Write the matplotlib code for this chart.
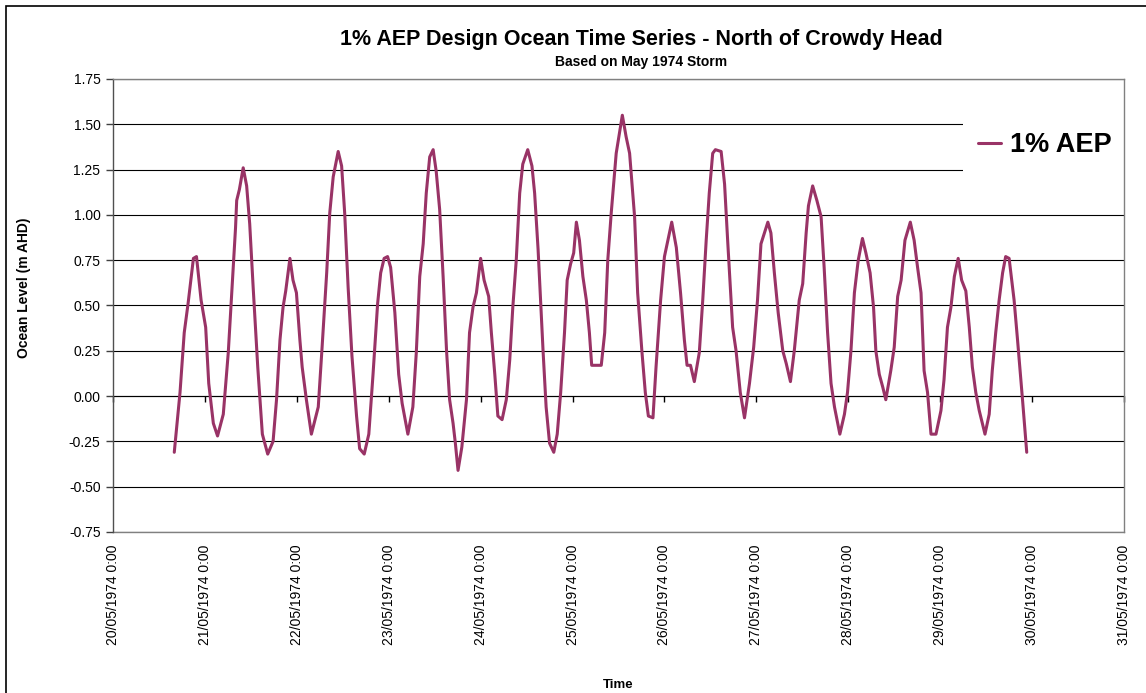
import numpy as np
import pandas as pd
import matplotlib
matplotlib.use("Agg")
import matplotlib.pyplot as plt
import matplotlib.dates as mdates
from matplotlib.patches import Rectangle
from matplotlib.ticker import FuncFormatter

plt.rcParams['font.family'] = ['Liberation Sans', 'DejaVu Sans']

# Hours after 20/05/1974 0:00 and ocean level (m AHD)
hours = [16.0, 17.5, 18.6, 19.6, 21.0, 21.8, 23.0, 24.2, 25.0, 26.2,
         27.3, 28.8, 30.1, 31.4, 32.0, 32.3, 33.0, 34.0, 34.9, 35.7,
         36.6, 37.8, 39.0, 40.4, 41.8, 42.7, 43.6, 44.4, 45.1, 46.2,
         47.0, 47.9, 48.8, 49.4, 50.5, 51.8, 53.6, 54.6, 55.8, 56.6,
         57.5, 58.8, 59.7, 60.5, 61.4, 62.4, 63.6, 64.4, 65.6, 66.8,
         67.9, 69.1, 69.9, 70.8, 71.7, 72.5, 73.6, 74.6, 75.5, 77.0,
         78.3, 79.2, 80.1, 81.0, 81.8, 82.7, 83.6, 84.4, 85.3, 86.2,
         87.1, 87.9, 88.8, 89.4, 90.1, 91.1, 92.3, 93.1, 94.0, 94.9,
         96.0, 96.9, 98.1, 98.8, 99.7, 100.5, 101.6, 102.7, 103.6, 104.4,
         105.3, 106.2, 107.0, 108.3, 109.4, 110.1, 111.0, 112.3, 113.1, 114.0,
         115.1, 116.0, 116.9, 117.9, 118.6, 119.5, 120.3, 121.0, 121.8, 122.7,
         123.6, 124.4, 125.0, 127.5, 128.4, 129.2, 130.1, 131.4, 133.0, 134.0,
         134.9, 136.2, 137.0, 138.1, 139.0, 139.8, 141.0, 141.8, 143.0, 144.0,
         145.9, 147.1, 148.2, 149.2, 149.9, 150.8, 151.8, 153.1, 154.0, 154.9,
         155.7, 156.6, 157.3, 158.8, 159.7, 160.5, 161.8, 162.7, 163.8, 164.9,
         166.2, 167.3, 168.3, 169.2, 171.0, 171.8, 172.7, 173.7, 174.9, 175.8,
         176.9, 177.9, 179.2, 180.1, 181.0, 181.6, 182.7, 183.8, 184.9, 185.7,
         186.6, 187.5, 188.4, 189.8, 191.0, 191.8, 192.7, 193.6, 194.6, 195.7,
         196.6, 197.7, 198.6, 199.2, 200.1, 201.0, 201.8, 203.1, 204.0, 204.9,
         205.8, 206.8, 208.2, 209.2, 210.1, 211.0, 211.8, 212.7, 213.6, 214.9,
         216.2, 217.0, 217.9, 218.8, 219.7, 220.7, 221.6, 222.7, 223.6, 224.4,
         225.3, 226.2, 227.7, 228.8, 229.6, 230.5, 231.4, 232.3, 233.1, 234.0,
         235.3, 236.2, 237.5, 238.6]

level = [-0.31, 0.02, 0.35, 0.51, 0.76, 0.77, 0.53, 0.38, 0.07, -0.15,
         -0.22, -0.10, 0.24, 0.71, 0.93, 1.08, 1.14, 1.26, 1.16, 0.95,
         0.60, 0.16, -0.21, -0.32, -0.25, -0.02, 0.31, 0.49, 0.58, 0.76,
         0.64, 0.57, 0.31, 0.16, -0.02, -0.21, -0.06, 0.27, 0.68, 1.01,
         1.21, 1.35, 1.27, 1.01, 0.60, 0.22, -0.11, -0.29, -0.32, -0.21,
         0.12, 0.51, 0.68, 0.76, 0.77, 0.71, 0.46, 0.12, -0.04, -0.21,
         -0.06, 0.24, 0.66, 0.84, 1.12, 1.32, 1.36, 1.24, 1.03, 0.66,
         0.25, -0.02, -0.15, -0.26, -0.41, -0.28, -0.02, 0.35, 0.49, 0.57,
         0.76, 0.64, 0.55, 0.35, 0.12, -0.11, -0.13, -0.02, 0.20, 0.49,
         0.75, 1.12, 1.28, 1.36, 1.27, 1.12, 0.81, 0.25, -0.06, -0.26,
         -0.31, -0.21, 0.02, 0.35, 0.64, 0.73, 0.79, 0.96, 0.86, 0.66,
         0.53, 0.35, 0.17, 0.17, 0.35, 0.75, 1.01, 1.34, 1.55, 1.43,
         1.34, 0.99, 0.57, 0.25, 0.02, -0.11, -0.12, 0.16, 0.53, 0.77,
         0.96, 0.82, 0.57, 0.31, 0.17, 0.17, 0.08, 0.24, 0.53, 0.86,
         1.12, 1.34, 1.36, 1.35, 1.17, 0.86, 0.38, 0.25, 0.02, -0.12,
         0.07, 0.27, 0.53, 0.84, 0.96, 0.90, 0.68, 0.46, 0.25, 0.18,
         0.08, 0.25, 0.53, 0.62, 0.90, 1.05, 1.16, 1.08, 0.99, 0.71,
         0.35, 0.07, -0.06, -0.21, -0.10, 0.02, 0.25, 0.57, 0.75, 0.87,
         0.79, 0.68, 0.49, 0.25, 0.12, 0.05, -0.02, 0.14, 0.27, 0.55,
         0.64, 0.86, 0.96, 0.86, 0.71, 0.57, 0.14, 0.02, -0.21, -0.21,
         -0.08, 0.09, 0.38, 0.49, 0.66, 0.76, 0.64, 0.58, 0.38, 0.16,
         0.02, -0.08, -0.21, -0.10, 0.14, 0.35, 0.53, 0.68, 0.77, 0.76,
         0.53, 0.31, -0.02, -0.31]

start = pd.Timestamp("1974-05-20 00:00")
end = pd.Timestamp("1974-05-31 00:00")
times = start + pd.to_timedelta(hours, unit="h")

W, H = 1146, 693
fig = plt.figure(figsize=(W / 100, H / 100), dpi=100)
ax = fig.add_axes([113 / W, 1 - 532 / H, (1124 - 113) / W, (532 - 79) / H])

ax.plot(times, level, color="#993366", lw=2.2, label="1% AEP", zorder=3,
        solid_joinstyle="round", solid_capstyle="round")

ax.set_xlim(start, end)
ax.set_ylim(-0.75, 1.75)
ax.set_yticks(np.arange(-0.75, 1.76, 0.25))
ax.yaxis.set_major_formatter(FuncFormatter(lambda v, p: f"{v:.2f}"))
ax.tick_params(axis="y", length=5, width=1, color="#404040", labelsize=10, pad=4)
ax.yaxis.grid(True, color="black", lw=0.8)
ax.set_axisbelow(True)

# x axis crosses at 0 (tick marks there), labels sit at the bottom
ax.spines["bottom"].set_position(("data", 0))
ax.spines["bottom"].set_color("black")
ax.spines["bottom"].set_linewidth(0.8)
ax.xaxis.set_major_locator(mdates.DayLocator())
ax.tick_params(axis="x", length=4, width=1, color="black", labelbottom=False)

def date_label(v, p):
    d = mdates.num2date(v)
    return f"{d:%d/%m/%Y} {d.hour}:{d:%M}"

sec = ax.secondary_xaxis("bottom")
sec.xaxis.set_major_locator(mdates.DayLocator())
sec.xaxis.set_major_formatter(FuncFormatter(date_label))
sec.tick_params(axis="x", length=0, labelsize=10, labelrotation=90, pad=9)
sec.spines["bottom"].set_color("#808080")
sec.spines["bottom"].set_linewidth(1)

for side in ["left", "right", "top"]:
    ax.spines[side].set_color("#808080")
    ax.spines[side].set_linewidth(1)
    ax.spines[side].set_zorder(6)
ax.spines["left"].set_color("#505050")

leg = ax.legend(loc="center left", bbox_to_anchor=(963 / W, 1 - 145 / H),
                bbox_transform=fig.transFigure, borderaxespad=0,
                prop={"size": 19.5, "weight": "bold"}, handlelength=0.85,
                handletextpad=0.35, borderpad=0.55, frameon=True,
                fancybox=False)
leg.get_frame().set_facecolor("white")
leg.get_frame().set_edgecolor("none")
leg.get_frame().set_alpha(1)
leg.set_zorder(5)

fig.text(641 / W, 1 - 40 / H, "1% AEP Design Ocean Time Series - North of Crowdy Head",
         ha="center", va="center", fontsize=15.5, weight="bold")
fig.text(641 / W, 1 - 62 / H, "Based on May 1974 Storm",
         ha="center", va="center", fontsize=10, weight="bold")
fig.text(24 / W, 1 - 288 / H, "Ocean Level (m AHD)", rotation=90,
         ha="center", va="center", fontsize=10, weight="bold")
fig.text(618 / W, 1 - 685 / H, "Time", ha="center", va="center",
         fontsize=9.5, weight="bold")

# outer chart border (left and top edges visible)
fig.add_artist(Rectangle((6 / W, -0.1), 2, 1.1 - 6 / H, transform=fig.transFigure,
                         fill=False, edgecolor="black", lw=1.2, clip_on=False))

fig.savefig("out.png", dpi=100)
